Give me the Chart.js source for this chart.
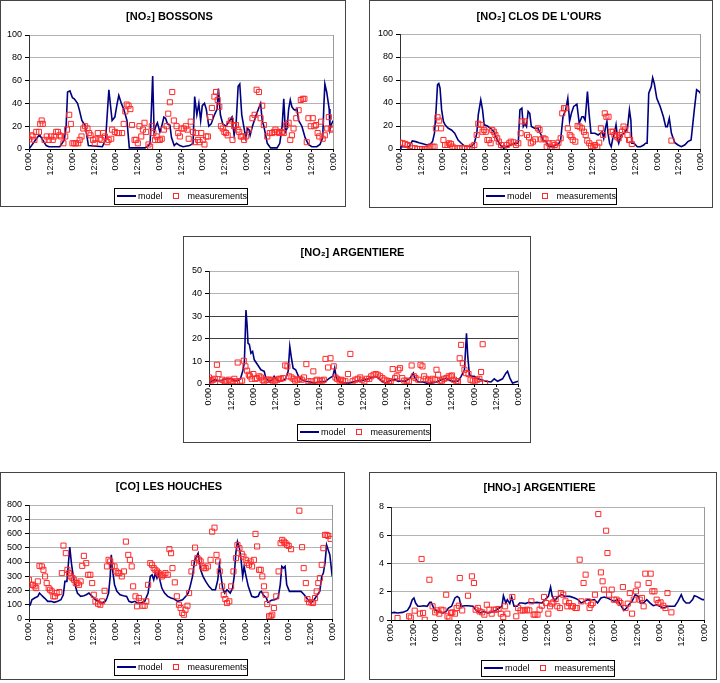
<!DOCTYPE html>
<html lang="en">
<head>
<meta charset="UTF-8">
<title>Model vs measurements</title>
<script src="https://cdn.jsdelivr.net/npm/chart.js@4.4.1/dist/chart.umd.min.js"></script>
<style>
  body { margin: 0; background: #fff; width: 720px; height: 683px; position: relative; overflow: hidden; }
  .panel { position: absolute; box-sizing: border-box; border: 1px solid #444; background: #fff; }
  .panel canvas { position: absolute; left: 0; top: 0; }
</style>
</head>
<body>
<script>
// ---- labels ----
const hourLabels = ['0:00', '12:00'];
const legendNames = ['model', 'measurements'];
const titles = ['[NO₂] BOSSONS', "[NO₂] CLOS DE L'OURS", '[NO₂] ARGENTIERE', '[CO] LES HOUCHES', '[HNO₃] ARGENTIERE'];

// ---- data: [hour, value] ----
const bossonsModel = [[0,0],[5.5,12],[6,12],[9.5,3],[11,2],[17,2],[19.5,8],[20.5,20],[21.3,50],[22.6,51],[24,45],[25,44],[26.8,40],[27.7,35],[29.2,25],[30.4,22],[31,21],[32.8,3],[40.5,2],[42.3,8],[44.1,52],[45.9,25],[47.4,28],[48.7,40],[49.6,47],[51,40],[52.3,35],[53.2,30],[54.1,25],[55.4,1],[64.1,1],[66,3],[66.9,5],[68.3,64],[69.1,15],[70,20],[70.9,23],[72.3,15],[73.3,20],[74.5,28],[75.4,27],[76.5,22],[77.8,21],[78.7,10],[80.2,3],[81.5,5],[83.3,3],[85.1,2],[88.7,3],[90.6,5],[91.5,46],[92.7,30],[93.8,40],[94.8,25],[95.7,38],[96.9,40],[97.9,35],[99.3,20],[100.6,22],[102.4,30],[103.9,35],[104.6,53],[105.7,30],[107,22],[108.8,20],[112.1,28],[113.3,12],[113.9,18],[114.3,20],[115.5,55],[116.4,57],[117.5,30],[118.8,18],[119.7,10],[120.6,18],[121.5,17],[122.1,12],[123.4,20],[125.5,30],[127.9,40],[128.8,25],[129.7,20],[131.6,5],[133.4,1],[137,1],[138.5,5],[139.8,20],[140.7,44],[141.6,15],[142.5,18],[143.4,35],[144.3,43],[145.2,37],[146.1,35],[147,34],[148,35],[148.9,25],[150.7,20],[152.5,10],[154.3,4],[156.2,2],[158.9,2],[160.7,4],[162.2,10],[162.9,40],[163.4,57],[164.4,50],[165.8,35],[166.2,17],[167.1,22],[168,25]];
const bossonsMeas = [[0,8.5],[1.3,12],[2,11],[3,8],[4,15],[5.5,15],[6.2,22],[7,25],[7.6,22],[8.6,8],[9.8,11],[10.9,8],[12.2,11],[13.1,8],[14,11],[15,15],[16,15],[16.8,12],[17.7,11],[19,5],[20,11],[21,17],[22.2,30],[23.1,22],[24,5],[25,5],[25.9,5],[27.2,5],[28,8],[29,11],[30,18],[31,20],[32.3,18],[33.2,14],[34,12],[35.4,8],[36.3,5],[36.8,9],[38,14],[39,9],[40,8],[41,14],[41.9,11],[43.2,6],[44,8],[45.4,9],[45.9,17],[47.4,15],[48.7,14],[49.6,14],[51.4,14],[52.3,22],[53.2,33],[54,39],[55,38],[56,35],[56.9,21],[58.3,8],[59.2,8],[60.1,5],[61,20],[62,11],[62.9,17],[63.8,23],[64.7,15],[66,4],[66.9,2],[67.8,20],[68.7,14],[69.6,8],[70.5,11],[71.4,8],[72.3,8],[73.3,9],[74.5,17],[76,20],[76.9,31],[77.8,41],[79.1,50],[80,25],[81.5,20],[82.4,14],[83.3,11],[84.2,18],[85.5,18],[86.6,20],[87.5,17],[88.2,9],[89.3,24],[90.6,15],[91.5,6],[92.4,14],[93.3,8],[94.2,6],[95.1,14],[96,8],[96.9,4],[97.9,11],[98.8,11],[100,28],[101,36],[102.4,46],[103.3,50],[104.2,43],[105.1,37],[106,20],[107,18],[107.9,15],[108.8,14],[109.7,12],[110.6,22],[111.5,25],[112.4,8],[113.3,20],[114.3,21],[115.2,17],[116.1,15],[117,11],[117.9,11],[118.8,8],[119.7,11],[121.5,17],[123.4,27],[124.6,30],[125.7,52],[127,50],[127.9,27],[128.8,38],[129.7,21],[131.6,11],[133,14],[134.3,14],[135.2,15],[136.1,17],[137,15],[138,14],[138.8,15],[139.8,15],[140.7,14],[142.1,21],[143.4,23],[144.3,8],[145.2,12],[146.1,18],[147.6,27],[148.9,34],[150.1,43],[151.2,44],[152.1,44],[153.4,6],[154.3,27],[155.6,20],[156.7,27],[157.6,20],[158.5,21],[159.4,14],[160.3,11],[161.3,24],[162.2,9],[163.4,12],[164.7,18],[165.6,28],[166.7,18],[167.6,17]];

const closModel = [[0,0],[0.5,2],[5.1,2],[6.9,7],[8.8,6.4],[10.6,5.5],[13.3,4.4],[15.1,3.5],[17,4.4],[18.2,6.4],[19.3,13.7],[20.2,34],[21,56],[21.7,57],[22.4,53],[23.3,34],[24.3,24],[25.2,21],[27,18],[28.8,16.6],[30.6,13.7],[32.5,7.8],[34.3,5],[36.1,2.6],[39.8,2],[41.6,5],[43,13.7],[43.8,29.6],[45.2,42.7],[46.2,34],[47.1,21],[48.9,20],[50.7,18],[52.5,15],[54.4,7.8],[56.2,3.5],[58,0.6],[59.8,2],[61.7,3.5],[64.9,5],[66.2,5],[67.1,34],[68.2,35.5],[69,19.5],[69.9,22],[70.8,19.5],[71.7,32.6],[72.6,31],[73.5,19.5],[75.3,18],[77.2,18],[79,12.2],[79.9,7.8],[81.7,6.4],[83.5,2],[85.4,2],[87.2,3.5],[89,5],[89.9,7.8],[91.2,28],[92.7,34],[93.9,44],[94.9,24],[95.9,31],[97.2,37],[99,39],[100.3,22.4],[101.8,28],[102.7,28],[103.6,25],[104.9,50],[105.8,31],[106.9,13.7],[109.1,13.7],[110.9,12.2],[112.2,13.7],[113.1,15],[114,9.3],[114.9,18],[115.8,24],[116.4,13.7],[117.3,5],[118.2,2],[119.1,9.3],[120,13.7],[120.9,21],[121.9,7.8],[122.4,5],[123.7,12.2],[125.5,13.7],[127.3,18],[128.4,34],[129.2,25],[129.7,5],[131,5],[132.8,2],[134.6,2],[136.4,3.5],[137.4,5],[138.3,5],[139.2,48.5],[140.6,54],[141.4,62],[142.3,57],[143.7,44],[145.6,37],[147.4,28],[148.7,19.5],[149.6,19.5],[150.7,26.7],[151.9,13.7],[153.8,5.5],[155.6,3.5],[157.4,2],[159.3,3.5],[161.1,6.4],[162.9,7.8],[164.7,34],[166,51.5],[167.4,50],[168,48.5]];
const closMeas = [[0,5.5],[1.5,5],[2.9,4.4],[4.2,3.5],[5.5,2.6],[6.9,0.6],[8.4,0.6],[9.7,0],[11.1,0],[12.4,0],[13.7,0],[14.8,0],[16,0.6],[17,2],[18.2,2],[19.3,2],[20.1,18],[21,27.6],[21.9,24.7],[23,18],[24.3,7.8],[25.2,3.5],[26.6,3.5],[27.5,5],[28.5,4.4],[29.4,2],[30.6,0.6],[32.1,0.6],[33.4,0.6],[34.8,0.6],[36.1,0.6],[37.6,0],[38.9,0.6],[40.3,2],[41.6,3.5],[42.9,12.2],[43.8,22],[45.2,21],[46.2,15],[47.1,16.6],[48,15],[48.9,7.8],[49.8,7.8],[50.7,5],[51.6,16.6],[52.5,15],[53.4,12.2],[54.4,9.3],[55.3,6.4],[56.6,3.5],[58,0.6],[59.8,3.5],[61.1,5],[62,6.4],[63.5,5.8],[64.9,3.5],[66.2,5],[67.5,13.7],[68.4,24],[69.9,24],[71.1,12.2],[72.2,10.2],[73.2,5],[74.4,6.4],[75.7,8.4],[77.2,18],[78.1,16.6],[79,8.4],[80.3,9.3],[81.4,8.4],[82.1,2],[83.2,5],[84.1,2],[85.4,5],[86.6,3.5],[87.7,2],[88.7,5.5],[89.9,9.3],[90.8,31],[91.8,35.5],[92.7,35.5],[93.9,18],[95,12.2],[95.9,10.8],[96.7,7.8],[98.1,6.4],[99.4,20],[100.5,19.5],[101.8,18],[103,15],[103.9,12.2],[104.8,7.3],[105.9,5],[106.9,2.6],[108.2,2],[109.1,3.5],[110.4,2],[111.5,5.5],[112.4,18],[113.7,12.2],[114.6,31],[115.5,28],[116.7,28],[118.2,15],[119.1,15],[120,12.2],[121.3,10.8],[122.4,9.3],[123.1,12.2],[124.2,15],[125.1,19.5],[126,17],[127.3,12.2],[128.2,7.8],[128.8,7.8],[129.7,4.4],[151.9,7.3]];

const argNo2Model = [[0,0],[1.3,1.2],[3.1,1.9],[4.9,1.5],[6.7,1.5],[8.5,2.2],[10.3,2.3],[12.1,2.3],[13.8,1.5],[15.6,1.5],[17.1,2.3],[18.3,5.6],[19.2,9.2],[20.1,32.7],[20.7,26],[21.2,18],[21.9,17.6],[22.8,13.6],[23.7,14.4],[24.6,10.7],[26.4,8.5],[28.2,6.3],[30,5.6],[30.9,2.6],[32.7,1.2],[34.5,1.9],[35.4,3.4],[36.3,2.3],[38.1,1.2],[39.9,1.5],[41.7,2.3],[43,5.6],[43.9,16.6],[44.8,11.4],[45.7,7],[47.1,6.3],[48.6,3.4],[50.4,1.9],[52.5,1.2],[55.2,0.9],[57,0.4],[59.7,0.9],[63.3,1.2],[65.5,2.6],[67.3,3.4],[68.3,7],[69.2,2.6],[70.5,1.2],[73.2,0.4],[75.9,0.4],[79.5,1.2],[83.1,1.5],[86.7,2.3],[90.3,3.4],[92.1,2.6],[93.9,1.2],[95.7,0.4],[98.4,1.5],[101.1,1.9],[102.9,1.2],[104.6,1.5],[106.5,1.2],[109.2,2.6],[111,4.8],[111.9,2.6],[113.7,0.9],[116.4,0.9],[118.2,0.4],[120.9,0.4],[123.6,0.9],[126.3,1.9],[129,2.6],[130.8,1.5],[132.6,1.2],[135.3,1.2],[137,3.4],[138.8,6.3],[139.9,22.4],[140.6,12.2],[141.5,4.1],[142.8,3.4],[144.2,3.4],[146,2.3],[147.8,1.9],[150.5,1.2],[153.2,0.9],[155,2.3],[156.8,1.2],[159.5,2.3],[161.3,4.8],[162.2,5.6],[163.5,2.6],[164.9,0.4],[166.7,0.9],[168,1.2]];
const argNo2Meas = [[0,2.9],[1.3,1.5],[2.2,1.9],[3.1,2.3],[4.3,8.5],[5.2,4.4],[6.1,0.4],[7.2,1.9],[8.5,1.2],[9.4,1.5],[10.8,1.9],[11.7,1.2],[12.9,1.2],[13.8,2.3],[15.1,1.2],[15.6,9.5],[16.9,1.2],[18,1.5],[18.9,10.3],[19.8,7.8],[20.7,5.9],[21.6,4.1],[22.3,3.4],[23.2,2.3],[24.1,4.4],[25.2,2.3],[26.1,2.6],[27.3,3.4],[28.2,2.9],[29.1,1.9],[30,1.2],[31.3,1.9],[32.4,1.9],[33.6,1.9],[34.5,1.5],[36,1.5],[37.2,1.9],[38.1,2.3],[39,2.3],[40.3,2.6],[41.4,8.2],[42.6,7.8],[43.5,3.4],[44.8,2.9],[45.9,2.3],[46.8,1.5],[48,1.9],[49.3,2.3],[50.4,1.9],[51.6,2.9],[52.9,8.8],[54,1.2],[55.6,1.2],[56.7,5.6],[57.9,1.5],[58.8,1.9],[60.3,1.5],[61.5,1.5],[62.4,1.9],[63.3,11.1],[64.7,7.3],[66,11.4],[67.8,7.8],[68.7,2.9],[69.6,2.3],[70.9,1.5],[71.8,1.9],[72.8,1.5],[74.1,1.2],[75.5,4.4],[76.8,13.3],[78,1.2],[79.5,1.9],[80.8,2.3],[82.2,2.9],[83.1,1.9],[84.4,1.2],[85.8,2.3],[87.1,2.3],[88.1,3.4],[89.4,4.1],[90.6,4.4],[91.7,4.1],[93,3.4],[94.2,2.6],[95.3,1.9],[96.6,1.5],[97.8,1.2],[98.7,1.2],[99.8,6.6],[101.1,2.6],[102,3.4],[102.9,6.3],[103.8,7],[105,2.6],[106.1,1.5],[107.4,1.5],[108.6,1.2],[110.1,8.2],[111.3,3.4],[112.2,2.6],[113.7,1.9],[114.9,8.5],[116,7.8],[116.9,3.4],[117.8,2.3],[119.1,1.9],[120.3,1.5],[121.4,2.3],[122.7,1.9],[123.6,6.3],[124.5,4.1],[125.7,1.5],[126.6,1.5],[127.7,2.3],[129,2.6],[130.2,3.4],[131.3,3.4],[132,3.8],[133.1,1.9],[134.4,1.2],[135.3,1.2],[136.2,11.4],[137,17.3],[137.9,9.2],[138.8,6.3],[139.7,4.8],[141,4.4],[142.1,1.9],[143.3,1.5],[144.6,1.5],[145.7,1.9],[146.9,2.3],[147.8,5.3],[148.7,17.6],[150,0.4]];

const coModel = [[0,89],[0.7,100],[1.6,135],[3.1,147],[4.9,159],[5.8,182],[6.7,170],[8.6,147],[10.4,124],[12.2,124],[14,117],[15.9,124],[17.7,135],[19,170],[19.9,264],[21,264],[21.7,369],[22.6,504],[23.5,392],[24.4,310],[25.5,240],[26.8,182],[28.6,159],[30.4,163],[31.7,170],[33.2,182],[35,159],[36.8,135],[38.6,124],[40.5,112],[42.3,124],[43.2,147],[44.1,182],[45,299],[45.6,450],[46.3,345],[47.4,240],[48.7,194],[50.5,170],[52.3,163],[54.1,159],[55.4,124],[56.9,117],[58.7,124],[60.1,112],[62,112],[64.1,124],[66,182],[67.2,299],[68.2,310],[69.1,275],[70,322],[70.9,287],[71.8,322],[72.7,264],[73.6,217],[75.1,182],[76.9,159],[78.7,147],[80.5,140],[82.4,124],[85.1,135],[86.9,159],[88.2,182],[89.3,229],[90.6,299],[91.8,415],[92.8,438],[93.7,462],[94.2,415],[95.1,345],[96.4,299],[97.9,264],[99.7,229],[101.5,205],[103.3,205],[104.6,275],[105.5,380],[106.4,299],[107.3,217],[108.4,182],[109.7,205],[111.5,182],[112.8,217],[113.7,299],[114.6,462],[115.5,543],[116.6,497],[117.5,415],[118.4,299],[119.2,369],[120.1,310],[121.5,229],[123.4,159],[125.2,152],[127,159],[127.9,187],[128.8,194],[129.7,170],[130.6,159],[131.5,147],[132.4,117],[134.3,131],[136.1,135],[138,147],[139.2,240],[140.1,369],[141,357],[141.9,369],[142.8,240],[144.3,194],[146.1,194],[148.9,194],[150.7,194],[152.5,170],[154.3,140],[156.2,112],[158,135],[159.8,170],[161.1,194],[162.2,299],[163.1,322],[164,392],[164.9,520],[165.8,485],[166.7,450],[168,299]];
const coMeas = [[0,275],[1.3,240],[2.2,240],[3.1,229],[4,217],[4.9,264],[5.8,373],[7.1,369],[8,345],[8.9,299],[9.8,252],[10.9,217],[11.7,205],[12.6,194],[13.5,159],[14.4,159],[15.3,182],[16.8,189],[18.2,322],[19.1,515],[20.4,462],[21.3,345],[22.2,322],[23.1,299],[24.1,287],[25,275],[25.9,252],[26.8,252],[27.7,240],[28.6,264],[29.5,373],[30.4,443],[31.7,392],[32.8,310],[34,310],[35,252],[35.9,170],[36.8,124],[38.3,107],[39.5,100],[40.5,124],[41.9,198],[43.2,369],[44.1,415],[45,404],[45.9,373],[47.4,369],[48.3,334],[49.2,322],[50.1,322],[51.4,299],[52.6,334],[53.7,543],[55,450],[55.9,415],[56.9,369],[57.7,229],[59,159],[59.9,89],[60.9,147],[62,124],[62.9,93],[64.1,93],[65,124],[66,240],[67.2,392],[68.2,380],[69.1,357],[70,345],[70.9,334],[71.8,322],[72.7,310],[73.6,299],[74.5,310],[75.6,322],[76.9,310],[77.8,490],[78.7,462],[79.5,357],[80.8,257],[81.9,159],[83.1,100],[84,77],[84.9,42],[85.8,30],[86.7,65],[87.8,93],[88.7,182],[90,334],[91.5,392],[92,501],[93.3,427],[94.2,415],[95.1,404],[96,369],[96.9,357],[97.9,357],[99.1,369],[100.6,415],[101.5,613],[102.8,641],[103.9,450],[104.8,404],[105.7,334],[107,229],[107.9,170],[108.8,140],[109.7,112],[111,124],[112,229],[113.3,334],[114.7,427],[115.5,520],[116.6,497],[117.9,457],[118.8,438],[120.1,415],[121,392],[121.9,380],[122.8,404],[123.6,369],[124.6,415],[125.5,597],[126.4,509],[127.5,345],[128.4,345],[129.3,299],[130.2,229],[131.1,170],[132,105],[133,19],[133.9,19],[134.8,30],[135.7,77],[137,159],[138.3,334],[139.4,532],[140.3,555],[141.2,543],[142.1,532],[143,520],[143.9,513],[145.2,490],[149.8,760],[151.3,504],[152.2,357],[153.4,252],[154.3,140],[155.2,117],[156.5,117],[157.4,112],[158.5,147],[159.4,194],[160.3,252],[161.2,287],[162.2,380],[163.1,497],[164,590],[164.9,590],[165.8,583],[167.1,562]];

const hno3Model = [[0,0.5],[1.8,0.54],[3.5,0.5],[6.2,0.54],[8.8,0.68],[10.2,0.97],[11.4,1.44],[12.3,1.56],[13.2,1.2],[14.4,0.97],[15.8,0.97],[17.6,1.01],[19.4,0.97],[20.8,1.25],[21.6,1.25],[22.9,0.85],[24.6,0.61],[26.4,0.54],[28.1,0.5],[29.6,0.61],[30.8,0.85],[32.5,0.97],[34.3,1.56],[35.5,1.67],[36.6,1.56],[37.5,0.97],[39.6,1.01],[41.3,1.01],[44,0.97],[45.7,0.68],[47.8,0.5],[49.6,0.61],[51.9,0.5],[53.6,0.54],[56.3,0.68],[58,0.85],[59.5,0.97],[60.3,1.72],[61.6,1.2],[62.4,1.44],[63.7,1.16],[64.7,1.63],[66,0.97],[67.7,0.97],[69,1.2],[70.4,1.2],[72.1,1.16],[73.9,1.25],[75.6,1.2],[78.3,1.25],[80.9,1.2],[82.7,1.44],[84.4,1.67],[85.6,2.33],[86.5,1.67],[87.9,1.39],[89.7,1.67],[91.5,1.79],[93.2,1.67],[95.9,1.67],[98.5,1.56],[100.3,1.44],[102,1.2],[103.8,1.32],[105.5,1.44],[107.3,1.39],[109.1,1.44],[110.8,1.2],[112.6,1.56],[114.3,1.63],[116.1,1.56],[117.9,1.44],[119.6,1.32],[121.4,1.44],[123.1,1.08],[124.9,0.68],[126.3,0.85],[127.5,1.08],[129.3,1.32],[131,1.79],[131.9,1.72],[132.8,1.67],[133.7,1.2],[135.4,1.2],[137.2,1.44],[139,1.2],[140.7,1.01],[142.5,1.08],[144.2,0.97],[146,0.85],[148.6,0.97],[150.4,0.97],[152.2,0.97],[153.9,1.32],[155.7,1.79],[156.9,1.39],[158.3,1.2],[160.1,1.2],[161.8,1.44],[162.7,1.72],[163.9,1.67],[165.4,1.56],[167.1,1.44],[168,1.44]];
const hno3Meas = [[3.5,0.14],[9.7,0.26],[10.6,0.17],[12.7,0.66],[15.5,0.45],[16.4,4.32],[17.2,0.5],[18.1,0.02],[20.6,2.85],[22.3,0.97],[23.7,0.54],[24.6,0.68],[25.9,0.45],[27,0.73],[28.1,0.68],[29.6,1.79],[30.3,0.26],[31.3,0.17],[32.2,0.5],[32.9,0.54],[34.3,0.45],[35.2,0.85],[36.4,1.01],[36.9,2.97],[38.2,0.68],[41.3,1.72],[43.4,3.09],[44.5,2.62],[45.4,0.73],[46.6,0.85],[47.5,0.61],[48.9,0.54],[50.1,0.38],[51.4,1.08],[52.8,0.73],[54,0.45],[55.1,0.73],[56.3,0.73],[57.7,0.78],[58.9,0.45],[60.2,0.21],[61.2,0.97],[62.4,0.45],[65.1,1.63],[67.2,0.26],[68.2,0.85],[69.5,0.68],[70.7,0.68],[71.8,0.68],[73,0.73],[74.2,0.68],[75.3,1.32],[76.5,0.38],[77.4,0.38],[78.6,0.38],[79.7,0.73],[80.9,1.01],[82.1,1.63],[83.2,1.2],[84.4,0.45],[85.3,0.97],[86.2,1.16],[87.1,1.25],[88.3,1.49],[89.2,0.97],[90.6,0.85],[91.1,1.91],[92.4,1.79],[93.6,1.32],[94.6,0.97],[95.5,1.2],[96.7,0.97],[97.6,0.97],[98.9,0.85],[99.7,0.85],[101.2,4.27],[102.1,1.32],[103.3,2.62],[104.4,3.21],[105.6,1.32],[106.5,0.85],[107.3,1.08],[108.2,1.2],[109.4,1.79],[111.2,7.5],[112.6,3.37],[113.5,2.74],[114.3,2.15],[115.4,6.32],[116.1,4.74],[117,1.79],[118.4,2.15],[119.6,1.44],[121,1.44],[122.3,1.32],[123.1,1.2],[124.4,2.33],[125.8,0.85],[127,1.16],[128.1,1.91],[129.3,0.45],[130.2,1.44],[131.4,2.03],[132.3,2.5],[133.4,1.44],[134.6,1.56],[135.5,0.97],[136.4,3.28],[138.2,2.62],[139.3,3.28],[140.2,2.03],[141.3,2.03],[142.5,1.44],[143.4,1.2],[144.6,1.25],[146,1.01],[147.2,0.85],[148.3,1.91],[150.4,0.54]];

// ---- layout of the five panels (page pixels) ----
const NAVY = '#000080';
const RED = '#ff2a2a';
const FONT = '"Liberation Sans", Arial, sans-serif';

const panels = [
  { title: titles[0], model: bossonsModel, meas: bossonsMeas, yMax: 100, yStep: 20, box: [0, 0, 346, 207], plot: [29, 35, 338, 149], titleY: 17, legendY: 196 },
  { title: titles[1], model: closModel, meas: closMeas, yMax: 100, yStep: 20, box: [369, 0, 344, 208], plot: [400, 34, 708, 149], titleY: 17, legendY: 196 },
  { title: titles[2], model: argNo2Model, meas: argNo2Meas, yMax: 50, yStep: 10, box: [183, 236, 348, 207], plot: [209, 271, 521, 384], titleY: 253, legendY: 432, darkGrid: [20, 30] },
  { title: titles[3], model: coModel, meas: coMeas, yMax: 800, yStep: 100, box: [0, 472, 345, 208], plot: [29, 505, 337, 619], titleY: 487, legendY: 667 },
  { title: titles[4], model: hno3Model, meas: hno3Meas, yMax: 8, yStep: 2, box: [369, 472, 348, 208], plot: [391, 507, 709, 620], titleY: 488, legendY: 668 }
];

const toPts = arr => arr.map(([x, y]) => ({ x, y }));

Chart.defaults.font.family = FONT;
Chart.defaults.color = '#000';

panels.forEach(p => {
  const [bx, by, bw, bh] = p.box;
  const cw = bw - 2, ch = bh - 2;
  const left = p.plot[0] - bx - 1, top = p.plot[1] - by - 1;
  const right = p.plot[2] - bx - 1, bottom = p.plot[3] - by - 1;
  const titleMid = p.titleY - by - 1;
  const legendMid = p.legendY - by - 1;

  const div = document.createElement('div');
  div.className = 'panel';
  Object.assign(div.style, { left: bx + 'px', top: by + 'px', width: bw + 'px', height: bh + 'px' });
  const cv = document.createElement('canvas');
  cv.width = cw; cv.height = ch;
  cv.style.width = cw + 'px'; cv.style.height = ch + 'px';
  div.appendChild(cv);
  document.body.appendChild(div);

  // plot frame on the right + boxed legend like the spreadsheet one
  const extras = {
    id: 'extras',
    afterDraw(chart) {
      const ctx = chart.ctx, a = chart.chartArea;
      ctx.save();
      ctx.fillStyle = '#9a9a9a';
      ctx.fillRect(Math.round(a.right), Math.round(a.top), 1, Math.round(a.bottom - a.top));

      ctx.font = '9px ' + FONT;
      const t1 = ctx.measureText(legendNames[0]).width;
      const t2 = ctx.measureText(legendNames[1]).width;
      const sym = 19, gap = 2, itemGap = 4, pad = 2;
      const w = Math.round(pad + sym + gap + t1 + itemGap + sym + gap + t2 + pad);
      const x0 = Math.round((a.left + a.right) / 2 - w / 2);
      const y0 = Math.round(legendMid - 8);
      // legend frame
      ctx.fillStyle = '#000';
      ctx.fillRect(x0, y0, w, 17);
      ctx.fillStyle = '#fff';
      ctx.fillRect(x0 + 1, y0 + 1, w - 2, 15);

      let cx = x0 + 1 + pad;
      ctx.fillStyle = NAVY;
      ctx.fillRect(cx, Math.round(legendMid) - 1, sym, 2);
      cx += sym + gap;
      ctx.fillStyle = '#000';
      ctx.textBaseline = 'middle';
      ctx.fillText(legendNames[0], cx, legendMid + 0.5);
      cx += t1 + itemGap;
      // red hollow square marker
      const sx = Math.round(cx + sym / 2 - 3), sy = Math.round(legendMid - 3);
      ctx.fillStyle = RED;
      ctx.fillRect(sx, sy, 6, 6);
      ctx.fillStyle = '#fff';
      ctx.fillRect(sx + 1, sy + 1, 4, 4);
      cx += sym + gap;
      ctx.fillStyle = '#000';
      ctx.fillText(legendNames[1], cx, legendMid + 0.5);
      ctx.restore();
    }
  };

  new Chart(cv, {
    type: 'scatter',
    data: {
      datasets: [
        {
          label: legendNames[1],
          data: toPts(p.meas),
          pointStyle: 'rect',
          pointRadius: 3.6,
          borderColor: RED,
          backgroundColor: 'rgba(255,255,255,0)',
          borderWidth: 1
        },
        {
          label: legendNames[0],
          data: toPts(p.model),
          showLine: true,
          borderColor: NAVY,
          borderWidth: 1.6,
          pointRadius: 0,
          tension: 0
        }
      ]
    },
    options: {
      responsive: false,
      animation: false,
      events: [],
      layout: { padding: { left: 0, top: 0, bottom: 0, right: cw - right } },
      plugins: {
        legend: { display: false },
        tooltip: { enabled: false },
        title: {
          display: true,
          text: p.title,
          color: '#000',
          font: { size: 11, weight: 'bold' },
          padding: { top: titleMid - 6.6, bottom: top - (titleMid - 6.6) - 13.2 }
        }
      },
      scales: {
        x: {
          type: 'linear',
          min: 0,
          max: 168,
          afterFit: s => { s.height = ch - bottom; },
          ticks: {
            stepSize: 12,
            autoSkip: false,
            minRotation: 90,
            maxRotation: 90,
            padding: 1,
            font: { size: 9 },
            callback: v => hourLabels[Math.round(v / 12) % 2]
          },
          grid: { drawOnChartArea: false, tickLength: 3, color: '#000' },
          border: { color: '#000' }
        },
        y: {
          min: 0,
          max: p.yMax,
          afterFit: s => { s.width = left; },
          ticks: { stepSize: p.yStep, padding: 3, font: { size: 9 } },
          grid: {
            color: c => (p.darkGrid && p.darkGrid.includes(c.tick.value)) ? '#404040' : '#b4b4b4',
            tickColor: '#000',
            tickLength: 4
          },
          border: { color: '#333' }
        }
      }
    },
    plugins: [extras]
  });
});
</script>
</body>
</html>
